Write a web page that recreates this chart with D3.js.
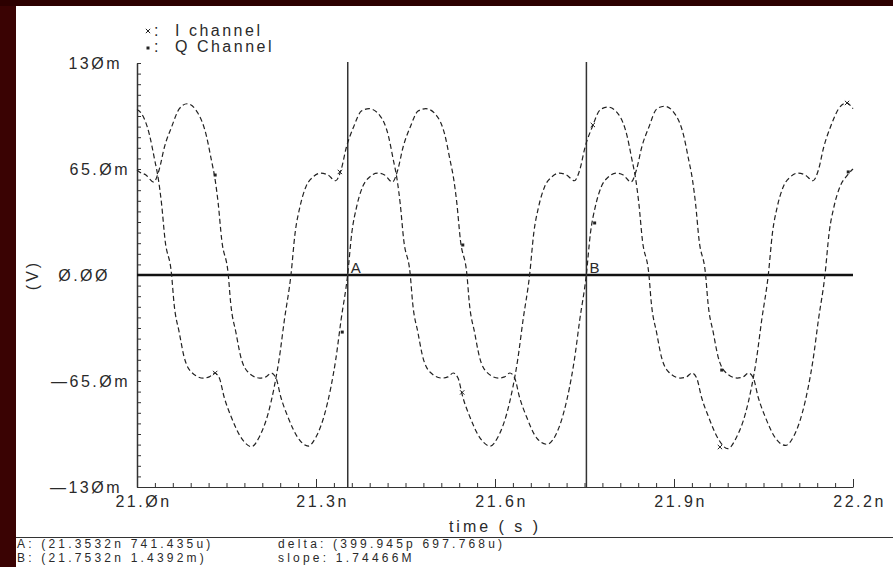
<!DOCTYPE html>
<html>
<head>
<meta charset="utf-8">
<script src="https://cdn.jsdelivr.net/npm/d3@7/dist/d3.min.js"></script>
<style>
  html, body { margin: 0; padding: 0; background: #fff; }
  svg { display: block; }
  text { font-family: "Liberation Sans", Arial, sans-serif; fill: #2a2a2a; }
</style>
</head>
<body>
<div id="chart"></div>
<script>
// time in ns, value in mV
var iChannel = [
  [21.000, 101.5], [21.007, 99.3], [21.021, 85.8], [21.029, 71.7], [21.036, 58.3], [21.041, 44.2],
  [21.047, 21.5], [21.058, 0], [21.062, -17.2], [21.071, -35.6], [21.079, -50.3], [21.091, -59.5],
  [21.111, -63.2], [21.121, -62.5], [21.130, -60.1], [21.138, -63.2], [21.146, -74.8], [21.158, -87.1],
  [21.175, -100.0], [21.192, -105.3], [21.205, -99.3], [21.220, -84.6], [21.230, -68.7], [21.238, -52.1],
  [21.247, -27.6], [21.258, 0],
  [21.265, 25.8], [21.273, 41.7], [21.283, 54.0], [21.295, 60.1], [21.308, 62.5], [21.320, 61.3],
  [21.333, 57.8], [21.342, 64.4], [21.351, 78.5], [21.363, 90.8], [21.376, 100.5], [21.389, 102.0],
  [21.407, 97.8], [21.421, 85.8], [21.429, 71.7], [21.436, 58.3], [21.441, 44.2], [21.447, 21.5],
  [21.458, 0], [21.462, -17.2], [21.471, -35.6], [21.479, -50.3], [21.491, -59.5], [21.511, -63.2],
  [21.521, -62.5], [21.530, -60.1], [21.538, -63.2], [21.546, -74.8], [21.558, -87.1], [21.575, -100.0],
  [21.592, -104.9], [21.605, -99.3], [21.620, -84.6], [21.630, -68.7], [21.638, -52.1], [21.647, -27.6],
  [21.658, 0],
  [21.665, 25.8], [21.673, 41.7], [21.683, 54.0], [21.695, 60.1], [21.708, 62.5], [21.720, 61.3],
  [21.733, 57.8], [21.742, 64.4], [21.751, 78.5], [21.763, 90.8], [21.776, 101.2], [21.789, 103.0],
  [21.807, 98.5], [21.821, 85.8], [21.829, 71.7], [21.836, 58.3], [21.841, 44.2], [21.847, 21.5],
  [21.858, 0], [21.862, -17.2], [21.871, -35.6], [21.879, -50.3], [21.891, -59.5], [21.911, -63.2],
  [21.921, -62.5], [21.930, -60.1], [21.938, -63.2], [21.946, -74.8], [21.958, -87.1], [21.975, -101.0],
  [21.990, -106.5], [22.005, -99.3], [22.020, -84.6], [22.030, -68.7], [22.038, -52.1], [22.047, -27.6],
  [22.058, 0],
  [22.065, 25.8], [22.073, 41.7], [22.083, 54.0], [22.095, 60.1], [22.108, 62.5], [22.120, 61.3],
  [22.133, 57.8], [22.142, 64.4], [22.151, 78.5], [22.163, 91.5], [22.176, 102.0], [22.189, 105.5],
  [22.200, 102.0]
];

var qChannel = [
  [21.000, 64.5], [21.003, 63.5], [21.015, 61.3], [21.028, 57.0], [21.037, 64.4], [21.046, 78.5],
  [21.058, 90.8], [21.071, 102.0], [21.084, 105.0], [21.102, 99.3], [21.116, 85.8], [21.124, 71.7],
  [21.131, 58.3], [21.136, 44.2], [21.142, 21.5], [21.153, 0], [21.157, -17.2], [21.166, -35.6],
  [21.174, -50.3], [21.186, -59.5], [21.206, -63.2], [21.216, -62.5], [21.225, -60.1], [21.233, -63.2],
  [21.241, -74.8], [21.253, -87.1], [21.270, -100.0], [21.287, -104.9], [21.300, -99.3], [21.315, -84.6],
  [21.325, -68.7], [21.333, -52.1], [21.342, -27.6], [21.353, 0],
  [21.360, 25.8], [21.368, 41.7], [21.378, 54.0], [21.390, 60.1], [21.403, 62.5], [21.415, 61.3],
  [21.428, 57.0], [21.437, 64.4], [21.446, 78.5], [21.458, 90.8], [21.471, 100.5], [21.484, 102.0],
  [21.502, 97.8], [21.516, 85.8], [21.524, 71.7], [21.531, 58.3], [21.536, 44.2], [21.542, 21.5],
  [21.553, 0], [21.557, -17.2], [21.566, -35.6], [21.574, -50.3], [21.586, -59.5], [21.606, -63.2],
  [21.616, -62.5], [21.625, -60.1], [21.633, -63.2], [21.641, -74.8], [21.653, -87.1], [21.670, -100.0],
  [21.687, -103.8], [21.700, -99.3], [21.715, -84.6], [21.725, -68.7], [21.733, -52.1], [21.742, -27.6],
  [21.753, 0],
  [21.760, 25.8], [21.768, 41.7], [21.778, 54.0], [21.790, 60.1], [21.803, 62.5], [21.815, 61.3],
  [21.828, 57.0], [21.837, 64.4], [21.846, 78.5], [21.858, 90.8], [21.871, 101.8], [21.884, 103.5],
  [21.902, 98.5], [21.916, 85.8], [21.924, 71.7], [21.931, 58.3], [21.936, 44.2], [21.942, 21.5],
  [21.953, 0], [21.957, -17.2], [21.966, -35.6], [21.974, -50.3], [21.986, -59.5], [22.006, -63.2],
  [22.016, -62.5], [22.025, -60.1], [22.033, -63.2], [22.041, -74.8], [22.053, -87.1], [22.070, -100.0],
  [22.087, -104.5], [22.100, -99.3], [22.115, -84.6], [22.125, -68.7], [22.133, -52.1], [22.142, -27.6],
  [22.153, 0],
  [22.160, 25.8], [22.168, 41.7], [22.178, 54.0], [22.190, 61.0], [22.200, 65.0]
];

// symbol markers sitting on each trace
var iMarkers = [[21.131, -60.1], [21.340, 63.2], [21.545, -72.0], [21.764, 92.0], [21.977, -105.5], [22.190, 105.5]];
var qMarkers = [[21.131, 61.3], [21.344, -35.0], [21.546, 18.4], [21.767, 31.9], [21.980, -58.3], [22.192, 63.2]];

var xTicks = [21.0, 21.3, 21.6, 21.9, 22.2];
var xTickLabels = ["21.Øn", "21.3n", "21.6n", "21.9n", "22.2n"];
var yTicks = [130, 65, 0, -65, -130];
var yTickLabels = ["13Øm", "65.Øm", "Ø.ØØ", "—65.Øm", "—13Øm"];

var seriesNames = ["I channel", "Q Channel"];
var cursorTimes = [21.3532, 21.7532];
var cursorNames = ["A", "B"];
var readoutLeft = ["A: (21.3532n 741.435u)", "B: (21.7532n 1.4392m)"];
var readoutRight = ["delta: (399.945p 697.768u)", "slope: 1.74466M"];

var W = 893, H = 567;
var svg = d3.select("#chart").append("svg").attr("width", W).attr("height", H);

svg.append("rect").attr("width", W).attr("height", H).attr("fill", "#ffffff");
svg.append("rect").attr("x", 0).attr("y", 0).attr("width", 16).attr("height", H).attr("fill", "#3a0303");
svg.append("rect").attr("x", 0).attr("y", 0).attr("width", W).attr("height", 6).attr("fill", "#2c0000");

var x = d3.scaleLinear().domain([21.0, 22.2]).range([137, 853]);
var y = d3.scaleLinear().domain([-130, 130]).range([487, 63]);

// x axis: minor + major ticks pointing up
svg.append("g")
  .attr("transform", "translate(0," + y(-130) + ")")
  .call(d3.axisBottom(x).tickValues(d3.range(0, 41).map(function (k) { return 21.0 + k * 0.03; }))
    .tickSize(-4).tickFormat("").tickSizeOuter(0))
  .call(function (g) { g.selectAll("line").attr("stroke", "#333"); g.select(".domain").attr("stroke", "#333"); });
svg.append("g")
  .attr("transform", "translate(0," + y(-130) + ")")
  .call(d3.axisBottom(x).tickValues(xTicks).tickSize(-8).tickSizeOuter(0)
    .tickFormat(function (d, i) { return xTickLabels[i]; }))
  .call(function (g) {
    g.select(".domain").remove();
    g.selectAll("line").attr("stroke", "#333");
    g.selectAll("text")
      .attr("y", 9).attr("dx", 6)
      .style("font-family", "'Liberation Sans', Arial, sans-serif")
      .style("font-size", "16px").style("letter-spacing", "2.5px").attr("fill", "#2a2a2a");
  });

// y axis ticks pointing right
svg.append("g")
  .attr("transform", "translate(" + x(21.0) + ",0)")
  .call(d3.axisLeft(y).tickValues(d3.range(0, 41).map(function (k) { return -130 + k * 6.5; }))
    .tickSize(-4).tickFormat("").tickSizeOuter(0))
  .call(function (g) { g.selectAll("line").attr("stroke", "#333"); g.select(".domain").attr("stroke", "#333").attr("stroke-width", 1.5); });

var yLabelEnd = [122, 130, 110, 130, 122];
svg.append("g").selectAll("text")
  .data(yTicks)
  .join("text")
  .attr("x", function (d, i) { return yLabelEnd[i]; })
  .attr("y", function (d) { return y(d) + 6; })
  .attr("text-anchor", "end")
  .style("font-size", "16px")
  .style("letter-spacing", "2.5px")
  .text(function (d, i) { return yTickLabels[i]; });

svg.append("text")
  .attr("transform", "translate(38," + y(0) + ") rotate(-90)")
  .attr("text-anchor", "middle")
  .style("font-size", "16px")
  .style("letter-spacing", "3px")
  .text("(V)");

svg.append("text")
  .attr("x", 495).attr("y", 532)
  .attr("text-anchor", "middle")
  .style("font-size", "16px")
  .style("letter-spacing", "3px")
  .text("time ( s )");

// zero line
svg.append("line")
  .attr("x1", x(21.0)).attr("x2", x(22.2))
  .attr("y1", y(0)).attr("y2", y(0))
  .attr("stroke", "#111").attr("stroke-width", 2.5);

// cursors
cursorTimes.forEach(function (t, i) {
  svg.append("line")
    .attr("x1", x(t)).attr("x2", x(t))
    .attr("y1", y(130) - 1).attr("y2", y(-130))
    .attr("stroke", "#333").attr("stroke-width", 1.5);
  svg.append("text")
    .attr("x", x(t) + 3).attr("y", y(0) - 2)
    .style("font-size", "15px")
    .text(cursorNames[i]);
});

// traces
var line = d3.line()
  .x(function (d) { return x(d[0]); })
  .y(function (d) { return y(d[1]); })
  .curve(d3.curveMonotoneX);

[iChannel, qChannel].forEach(function (data) {
  svg.append("path")
    .datum(data)
    .attr("d", line)
    .attr("fill", "none")
    .attr("stroke", "#222")
    .attr("stroke-width", 1.2)
    .attr("stroke-dasharray", "5,3");
});

var symI = d3.symbol().type(d3.symbolX).size(14);
var symQ = d3.symbol().type(d3.symbolSquare).size(9);
svg.append("g").selectAll("path")
  .data(iMarkers).join("path")
  .attr("transform", function (d) { return "translate(" + x(d[0]) + "," + y(d[1]) + ")"; })
  .attr("d", symI).attr("fill", "none").attr("stroke", "#222").attr("stroke-width", 1);
svg.append("g").selectAll("path")
  .data(qMarkers).join("path")
  .attr("transform", function (d) { return "translate(" + x(d[0]) + "," + y(d[1]) + ")"; })
  .attr("d", symQ).attr("fill", "#222");

// legend
var leg = svg.append("g");
leg.append("path").attr("transform", "translate(148,31)").attr("d", symI)
  .attr("fill", "none").attr("stroke", "#222");
leg.append("path").attr("transform", "translate(148,48)").attr("d", symQ).attr("fill", "#222");
leg.selectAll("text.colon")
  .data(seriesNames).join("text")
  .attr("class", "colon")
  .attr("x", 154).attr("y", function (d, i) { return 36 + i * 16; })
  .style("font-size", "16px")
  .text(":");
leg.selectAll("text.lab")
  .data(seriesNames).join("text")
  .attr("class", "lab")
  .attr("x", 175).attr("y", function (d, i) { return 36 + i * 16; })
  .style("font-size", "16px")
  .style("letter-spacing", "2.5px")
  .text(function (d) { return d; });

// readout area
svg.append("line")
  .attr("x1", 16).attr("x2", W).attr("y1", 537.5).attr("y2", 537.5)
  .attr("stroke", "#333").attr("stroke-width", 1);
svg.append("g").selectAll("text")
  .data(readoutLeft).join("text")
  .attr("x", 17).attr("y", function (d, i) { return 548 + i * 14; })
  .style("font-size", "12px").style("letter-spacing", "3.2px")
  .text(function (d) { return d; });
svg.append("g").selectAll("text")
  .data(readoutRight).join("text")
  .attr("x", 278).attr("y", function (d, i) { return 548 + i * 14; })
  .style("font-size", "12px").style("letter-spacing", "3.2px")
  .text(function (d) { return d; });
</script>
</body>
</html>
